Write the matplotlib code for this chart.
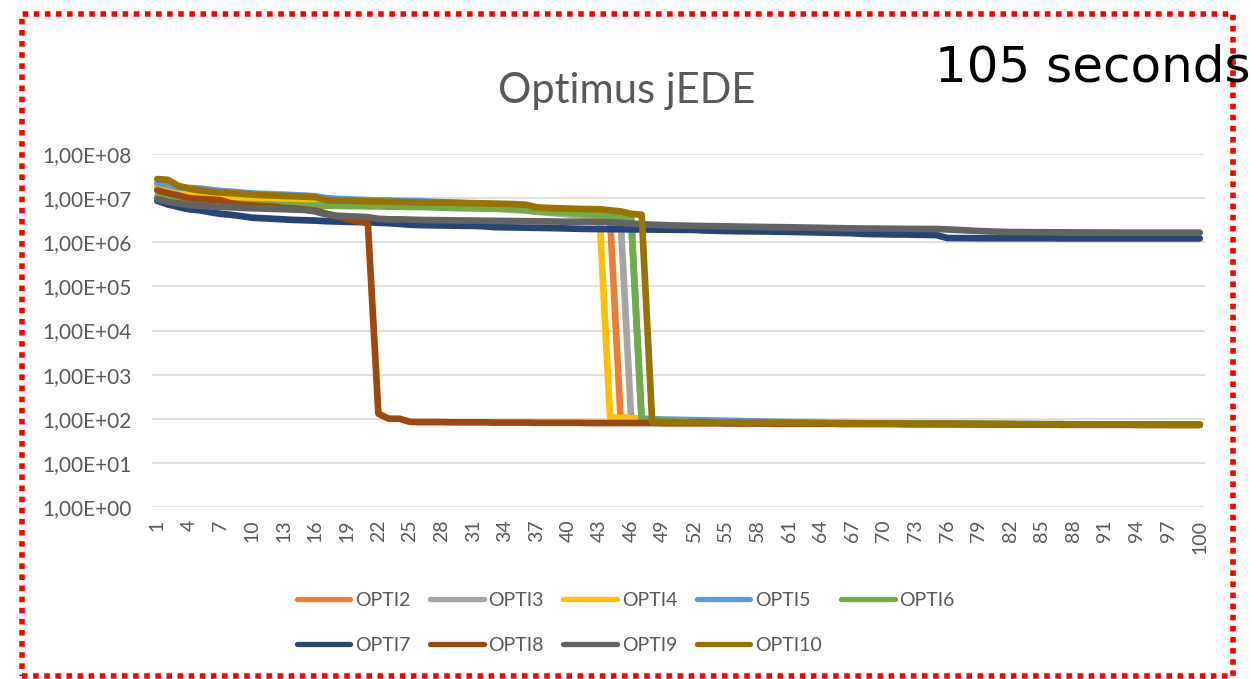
import matplotlib
matplotlib.use("Agg")
import matplotlib.pyplot as plt
from matplotlib.patches import Rectangle

iterations = list(range(1, 101))
tick_positions = list(range(1, 101, 3))

opti2 = [1.7e7, 1.5e7, 1.35e7, 1.25e7, 1.15e7, 1.1e7, 1.05e7, 1.0e7, 9.7e6, 9.5e6,
         9.3e6, 9.1e6, 9.0e6, 8.9e6, 8.8e6, 8.7e6, 8.6e6, 8.5e6, 8.4e6, 8.3e6,
         8.2e6, 8.1e6, 8.0e6, 7.8e6, 7.6e6, 7.4e6, 7.2e6, 7.0e6, 6.8e6, 6.6e6,
         6.4e6, 6.2e6, 6.0e6, 5.8e6, 5.6e6, 5.4e6, 5.1e6, 4.9e6, 4.7e6, 4.5e6,
         4.3e6, 4.1e6, 3.9e6, 3.6e6, 106, 103, 100, 88, 87, 86,
         85, 84, 84, 83, 83, 82, 82, 81, 81, 81,
         80, 80, 80, 79, 79, 79, 79, 78, 78, 78,
         78, 77, 77, 77, 77, 77, 76, 76, 76, 76,
         76, 75, 75, 75, 75, 75, 75, 74, 74, 74,
         74, 74, 74, 73, 73, 73, 73, 73, 73, 73]

opti3 = [1.6e7, 1.45e7, 1.3e7, 1.2e7, 1.12e7, 1.07e7, 1.02e7, 9.8e6, 9.5e6, 9.3e6,
         9.1e6, 8.9e6, 8.8e6, 8.7e6, 8.6e6, 8.5e6, 8.4e6, 8.3e6, 8.2e6, 8.1e6,
         8.0e6, 7.9e6, 7.8e6, 7.6e6, 7.4e6, 7.2e6, 7.0e6, 6.8e6, 6.6e6, 6.4e6,
         6.2e6, 6.0e6, 5.8e6, 5.6e6, 5.4e6, 5.2e6, 4.9e6, 4.7e6, 4.5e6, 4.3e6,
         4.1e6, 3.9e6, 3.7e6, 3.5e6, 3.3e6, 104, 100, 88, 87, 86,
         85, 84, 84, 83, 83, 82, 82, 81, 81, 81,
         80, 80, 80, 79, 79, 79, 79, 78, 78, 78,
         78, 77, 77, 77, 77, 77, 76, 76, 76, 76,
         76, 75, 75, 75, 75, 75, 75, 74, 74, 74,
         74, 74, 74, 73, 73, 73, 73, 73, 73, 73]

opti4 = [1.8e7, 1.6e7, 1.4e7, 1.3e7, 1.2e7, 1.15e7, 1.1e7, 1.05e7, 1.0e7, 9.8e6,
         9.6e6, 9.5e6, 9.4e6, 9.3e6, 9.2e6, 9.1e6, 9.0e6, 8.9e6, 8.8e6, 8.7e6,
         8.6e6, 8.5e6, 8.3e6, 8.1e6, 7.9e6, 7.7e6, 7.5e6, 7.3e6, 7.1e6, 6.9e6,
         6.7e6, 6.5e6, 6.3e6, 6.1e6, 5.9e6, 5.7e6, 5.4e6, 5.2e6, 5.0e6, 4.8e6,
         4.5e6, 4.3e6, 4.0e6, 108, 105, 103, 100, 88, 87, 86,
         85, 84, 84, 83, 83, 82, 82, 81, 81, 81,
         80, 80, 80, 79, 79, 79, 79, 78, 78, 78,
         78, 77, 77, 77, 77, 77, 76, 76, 76, 76,
         76, 75, 75, 75, 75, 75, 75, 74, 74, 74,
         74, 74, 74, 73, 73, 73, 73, 73, 73, 73]

opti5 = [2.2e7, 2.0e7, 1.75e7, 1.7e7, 1.65e7, 1.55e7, 1.45e7, 1.4e7, 1.33e7, 1.28e7,
         1.25e7, 1.22e7, 1.2e7, 1.17e7, 1.14e7, 1.1e7, 1.0e7, 9.6e6, 9.4e6, 9.2e6,
         9.0e6, 8.9e6, 8.8e6, 8.7e6, 8.6e6, 8.5e6, 8.3e6, 8.1e6, 7.9e6, 7.7e6,
         7.5e6, 7.3e6, 7.1e6, 6.9e6, 6.7e6, 6.3e6, 5.8e6, 5.5e6, 5.3e6, 5.1e6,
         4.9e6, 4.7e6, 4.5e6, 4.3e6, 4.0e6, 3.5e6, 100, 98, 96, 95,
         94, 93, 92, 91, 90, 89, 88, 87, 86, 85,
         84, 83, 82, 81, 80, 80, 79, 79, 79, 79,
         78, 78, 78, 78, 77, 77, 77, 77, 77, 76,
         76, 76, 76, 76, 75, 75, 75, 75, 75, 75,
         74, 74, 74, 74, 74, 74, 73, 73, 73, 73]

opti6 = [1.1e7, 1.0e7, 9.0e6, 8.3e6, 8.0e6, 7.8e6, 7.6e6, 7.5e6, 7.4e6, 7.3e6,
         7.2e6, 7.1e6, 7.0e6, 6.9e6, 6.8e6, 6.8e6, 6.7e6, 6.7e6, 6.6e6, 6.6e6,
         6.5e6, 6.5e6, 6.4e6, 6.4e6, 6.3e6, 6.3e6, 6.2e6, 6.1e6, 6.0e6, 5.9e6,
         5.85e6, 5.8e6, 5.75e6, 5.7e6, 5.6e6, 5.4e6, 5.0e6, 4.9e6, 4.8e6, 4.7e6,
         4.5e6, 4.3e6, 4.2e6, 4.0e6, 3.8e6, 3.5e6, 90, 88, 87, 86,
         85, 84, 84, 83, 83, 82, 82, 81, 81, 80,
         80, 80, 79, 79, 79, 79, 78, 78, 78, 78,
         77, 77, 77, 77, 77, 76, 76, 76, 76, 76,
         75, 75, 75, 75, 75, 75, 74, 74, 74, 74,
         74, 74, 73, 73, 73, 73, 73, 73, 73, 73]

opti7 = [8.7e6, 7.2e6, 6.3e6, 5.6e6, 5.3e6, 4.8e6, 4.4e6, 4.2e6, 3.9e6, 3.6e6,
         3.5e6, 3.4e6, 3.3e6, 3.2e6, 3.15e6, 3.1e6, 3.0e6, 2.95e6, 2.9e6, 2.87e6,
         2.85e6, 2.75e6, 2.7e6, 2.6e6, 2.5e6, 2.45e6, 2.42e6, 2.4e6, 2.38e6, 2.36e6,
         2.35e6, 2.3e6, 2.2e6, 2.18e6, 2.16e6, 2.14e6, 2.12e6, 2.1e6, 2.08e6, 2.05e6,
         2.02e6, 2.0e6, 1.99e6, 1.98e6, 1.97e6, 1.96e6, 1.95e6, 1.94e6, 1.93e6, 1.92e6,
         1.91e6, 1.9e6, 1.85e6, 1.82e6, 1.8e6, 1.78e6, 1.77e6, 1.76e6, 1.75e6, 1.73e6,
         1.72e6, 1.7e6, 1.68e6, 1.66e6, 1.64e6, 1.62e6, 1.6e6, 1.55e6, 1.53e6, 1.52e6,
         1.5e6, 1.5e6, 1.48e6, 1.47e6, 1.45e6, 1.25e6, 1.24e6, 1.24e6, 1.23e6, 1.23e6,
         1.23e6, 1.23e6, 1.23e6, 1.23e6, 1.23e6, 1.23e6, 1.22e6, 1.22e6, 1.22e6, 1.22e6,
         1.22e6, 1.22e6, 1.22e6, 1.22e6, 1.22e6, 1.22e6, 1.22e6, 1.22e6, 1.22e6, 1.22e6]

opti8 = [1.5e7, 1.3e7, 1.15e7, 1.0e7, 9.6e6, 9.3e6, 9.0e6, 7.6e6, 7.1e6, 6.8e6,
         6.6e6, 6.4e6, 6.0e6, 5.8e6, 5.5e6, 5.2e6, 4.5e6, 3.9e6, 3.4e6, 3.0e6,
         2.7e6, 130, 100, 100, 85, 84, 84, 84, 83, 83,
         83, 83, 82, 82, 82, 82, 81, 81, 81, 81,
         81, 80, 80, 80, 80, 80, 80, 80, 79, 79,
         79, 79, 79, 79, 78, 78, 78, 78, 78, 77,
         77, 77, 77, 77, 77, 76, 76, 76, 76, 76,
         76, 75, 75, 75, 75, 75, 75, 75, 74, 74,
         74, 74, 74, 74, 74, 74, 73, 73, 73, 73,
         73, 73, 73, 73, 73, 73, 73, 73, 73, 73]

opti9 = [9.5e6, 8.3e6, 7.6e6, 7.0e6, 6.7e6, 6.5e6, 6.3e6, 6.2e6, 6.0e6, 5.9e6,
         5.8e6, 5.7e6, 5.6e6, 5.5e6, 5.4e6, 5.0e6, 4.3e6, 4.0e6, 3.9e6, 3.8e6,
         3.7e6, 3.4e6, 3.3e6, 3.3e6, 3.25e6, 3.2e6, 3.18e6, 3.16e6, 3.14e6, 3.12e6,
         3.1e6, 3.08e6, 3.06e6, 3.04e6, 3.02e6, 3.0e6, 2.98e6, 2.96e6, 2.94e6, 2.92e6,
         2.91e6, 2.9e6, 2.9e6, 2.85e6, 2.75e6, 2.65e6, 2.55e6, 2.5e6, 2.45e6, 2.4e6,
         2.38e6, 2.35e6, 2.33e6, 2.31e6, 2.29e6, 2.27e6, 2.25e6, 2.23e6, 2.21e6, 2.2e6,
         2.18e6, 2.16e6, 2.14e6, 2.12e6, 2.1e6, 2.08e6, 2.06e6, 2.05e6, 2.04e6, 2.03e6,
         2.02e6, 2.01e6, 2.0e6, 2.0e6, 2.0e6, 1.95e6, 1.9e6, 1.85e6, 1.8e6, 1.76e6,
         1.73e6, 1.7e6, 1.7e6, 1.69e6, 1.69e6, 1.68e6, 1.68e6, 1.67e6, 1.67e6, 1.66e6,
         1.66e6, 1.66e6, 1.65e6, 1.65e6, 1.65e6, 1.65e6, 1.65e6, 1.65e6, 1.65e6, 1.65e6]

opti10 = [2.7e7, 2.6e7, 1.9e7, 1.65e7, 1.5e7, 1.4e7, 1.35e7, 1.3e7, 1.25e7, 1.2e7,
          1.17e7, 1.15e7, 1.12e7, 1.1e7, 1.08e7, 1.05e7, 9.0e6, 8.8e6, 8.7e6, 8.6e6,
          8.5e6, 8.4e6, 8.3e6, 8.2e6, 8.1e6, 8.0e6, 7.95e6, 7.9e6, 7.85e6, 7.8e6,
          7.7e6, 7.6e6, 7.5e6, 7.4e6, 7.3e6, 7.1e6, 6.2e6, 6.0e6, 5.9e6, 5.8e6,
          5.7e6, 5.65e6, 5.6e6, 5.3e6, 5.0e6, 4.4e6, 4.2e6, 85, 84, 84,
          83, 83, 83, 82, 82, 82, 81, 81, 81, 81,
          80, 80, 80, 80, 79, 79, 79, 79, 78, 78,
          78, 78, 77, 77, 77, 77, 77, 76, 76, 76,
          76, 76, 75, 75, 75, 75, 75, 75, 74, 74,
          74, 74, 74, 74, 73, 73, 73, 73, 73, 73]

series_names = ["OPTI2", "OPTI3", "OPTI4", "OPTI5", "OPTI6",
                "OPTI7", "OPTI8", "OPTI9", "OPTI10"]
series_values = [opti2, opti3, opti4, opti5, opti6, opti7, opti8, opti9, opti10]
series_colors = ["#ED7D31", "#A5A5A5", "#FFC000", "#5B9BD5", "#70AD47",
                 "#264478", "#9E480E", "#636363", "#997300"]

y_ticks = [1e0, 1e1, 1e2, 1e3, 1e4, 1e5, 1e6, 1e7, 1e8]
y_tick_labels = ["1,00E+00", "1,00E+01", "1,00E+02", "1,00E+03", "1,00E+04",
                 "1,00E+05", "1,00E+06", "1,00E+07", "1,00E+08"]

title_text = "Optimus jEDE"
note_text = "105 seconds"

FONT = ["Lato", "DejaVu Sans"]
TXT = "#595959"

fig = plt.figure(figsize=(12.51, 6.79), dpi=100)
ax = fig.add_axes([152 / 1251, 1 - 507 / 679, 1053 / 1251, 353 / 679])

handles = []
for name, vals, col in zip(series_names, series_values, series_colors):
    ln, = ax.plot(iterations, vals, color=col, lw=4.8, label=name,
                  solid_joinstyle="round", solid_capstyle="round")
    handles.append(ln)

ax.set_yscale("log")
ax.set_ylim(1, 1e8)
ax.set_xlim(0.5, 100.5)
ax.set_yticks(y_ticks)
ax.set_yticklabels(y_tick_labels, family=FONT, fontsize=15, color=TXT)
ax.minorticks_off()
ax.set_xticks(tick_positions)
ax.set_xticklabels([str(t) for t in tick_positions], rotation=90,
                   family=FONT, fontsize=14, color=TXT)
ax.tick_params(axis="y", length=0, pad=15)
ax.tick_params(axis="x", length=0, pad=9)
ax.grid(axis="y", color="#D9D9D9", lw=1.2)
ax.set_axisbelow(True)
for s in ax.spines.values():
    s.set_visible(False)

fig.text(627 / 1251, 1 - 103 / 679, title_text, ha="center", va="baseline",
         family=FONT, fontsize=30, color=TXT)
fig.text(935 / 1251, 1 - 82 / 679, note_text, ha="left", va="baseline",
         family=["DejaVu Sans"], fontsize=36, color="black")

# row-wise legend order (matplotlib fills legend columns first)
order = [0, 5, 1, 6, 2, 7, 3, 8, 4]
leg = fig.legend([handles[i] for i in order], [series_names[i] for i in order],
                 loc="upper left", bbox_to_anchor=(297 / 1251, 1 - 592 / 679),
                 ncol=5, frameon=False, borderaxespad=0, borderpad=0,
                 prop={"family": FONT, "size": 14},
                 handlelength=2.75, handletextpad=0.25, columnspacing=1.0,
                 labelspacing=1.45)
for t in leg.get_texts():
    t.set_color(TXT)
for h in leg.get_lines():
    h.set_linewidth(3.8)
    h.set_solid_capstyle("round")

border = Rectangle((22 / 1251, 3 / 679), (1233 - 22) / 1251, (677 - 15) / 679,
                   transform=fig.transFigure, fill=False, edgecolor="#FF0000",
                   lw=4, linestyle=(0, (1, 1)), clip_on=False)
fig.patches.append(border)

fig.savefig("out.png", dpi=100)
